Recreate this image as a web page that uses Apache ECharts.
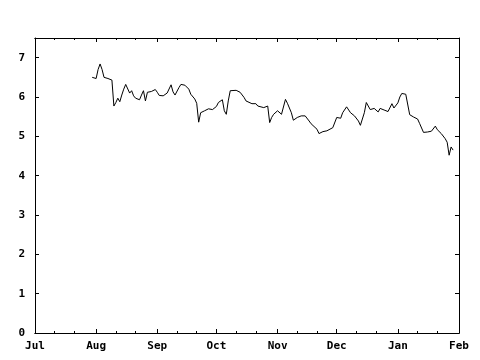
<!DOCTYPE html>
<html>
<head>
<meta charset="utf-8">
<script src="https://cdn.jsdelivr.net/npm/echarts@6/dist/echarts.min.js"></script>
<style>html,body{margin:0;padding:0;background:#fff}#c{width:480px;height:360px}</style>
</head>
<body>
<div id="c"></div>
<script>
var dates = [
 '2006-07-30','2006-07-31','2006-08-01','2006-08-02','2006-08-03','2006-08-04','2006-08-05','2006-08-07','2006-08-08','2006-08-09',
 '2006-08-10','2006-08-11','2006-08-12','2006-08-13','2006-08-14','2006-08-15','2006-08-16','2006-08-18','2006-08-19','2006-08-20',
 '2006-08-21','2006-08-23','2006-08-24','2006-08-25','2006-08-26','2006-08-27','2006-08-28','2006-08-29','2006-08-31','2006-09-01',
 '2006-09-02','2006-09-04','2006-09-06','2006-09-08','2006-09-09','2006-09-10','2006-09-12','2006-09-13','2006-09-15','2006-09-17',
 '2006-09-18','2006-09-20','2006-09-21','2006-09-22','2006-09-23','2006-09-25','2006-09-27','2006-09-29','2006-10-01','2006-10-02',
 '2006-10-04','2006-10-05','2006-10-06','2006-10-07','2006-10-08','2006-10-09','2006-10-11','2006-10-12','2006-10-13','2006-10-15',
 '2006-10-16','2006-10-19','2006-10-21','2006-10-22','2006-10-25','2006-10-26','2006-10-27','2006-10-28','2006-10-29','2006-10-30',
 '2006-11-01','2006-11-02','2006-11-03','2006-11-05','2006-11-06','2006-11-08','2006-11-09','2006-11-11','2006-11-13','2006-11-15',
 '2006-11-17','2006-11-18','2006-11-19','2006-11-21','2006-11-22','2006-11-24','2006-11-26','2006-11-29','2006-11-30','2006-12-01',
 '2006-12-02','2006-12-03','2006-12-04','2006-12-06','2006-12-08','2006-12-09','2006-12-10','2006-12-12','2006-12-13','2006-12-15',
 '2006-12-16','2006-12-18','2006-12-20','2006-12-21','2006-12-22','2006-12-23','2006-12-25','2006-12-27','2006-12-29','2006-12-30',
 '2007-01-01','2007-01-02','2007-01-03','2007-01-05','2007-01-06','2007-01-07','2007-01-09','2007-01-11','2007-01-12','2007-01-13',
 '2007-01-14','2007-01-16','2007-01-18','2007-01-19','2007-01-20','2007-01-21','2007-01-23','2007-01-25','2007-01-26','2007-01-27',
 '2007-01-28','2007-01-29'
];
var values = [
 6.50,6.48,6.47,6.70,6.84,6.70,6.50,6.47,6.45,6.43,
 5.77,5.86,5.97,5.88,6.05,6.20,6.32,6.10,6.16,6.03,
 5.97,5.93,6.05,6.16,5.90,6.12,6.16,6.14,6.19,6.12,
 6.04,6.03,6.10,6.31,6.13,6.05,6.24,6.32,6.30,6.20,
 6.07,5.95,5.84,5.36,5.60,5.65,5.70,5.68,5.76,5.86,
 5.93,5.65,5.56,5.90,6.16,6.17,6.17,6.16,6.12,5.99,
 5.90,5.83,5.83,5.77,5.73,5.69,5.77,5.35,5.48,5.56,
 5.65,5.62,5.56,5.94,5.84,5.60,5.41,5.48,5.52,5.52,
 5.39,5.32,5.31,5.18,5.07,5.12,5.14,5.22,5.26,5.48,
 5.53,5.46,5.60,5.75,5.60,5.63,5.52,5.39,5.28,5.60,
 5.86,5.68,5.71,5.67,5.62,5.71,5.67,5.63,5.83,5.72,
 5.85,6.00,6.09,6.07,6.04,5.55,5.49,5.44,5.33,5.35,
 5.10,5.11,5.13,5.17,5.26,5.17,5.07,4.94,4.85,4.52,
 4.73,4.65
];
var monthNames = ['Jan','Feb','Mar','Apr','May','Jun','Jul','Aug','Sep','Oct','Nov','Dec'];
var majorTicks = ['2006-07-01','2006-08-01','2006-09-01','2006-10-01','2006-11-01','2006-12-01','2007-01-01','2007-02-01'];
var minorTicks = ['2006-07-11','2006-07-21','2006-08-11','2006-08-21','2006-09-11','2006-09-21','2006-10-11','2006-10-21',
                  '2006-11-11','2006-11-21','2006-12-11','2006-12-21','2007-01-11','2007-01-21'];
var yTicks = [0,1,2,3,4,5,6,7];

function ts(s){ var p = s.split('-'); return new Date(+p[0], +p[1]-1, +p[2]).getTime(); }
var xMin = ts(majorTicks[0]), xMax = ts(majorTicks[majorTicks.length-1]);
var font = {fontFamily:'DejaVu Sans Mono', fontWeight:'bold', fontSize:11, color:'#000'};
var lineStyle = {color:'#000', width:1};

function xAx(pos, ticks, len, labels){
  return {
    type:'value', min:xMin, max:xMax, position:pos, gridIndex:0, scale:true,
    axisLine:{show:true, onZero:false, lineStyle:lineStyle},
    axisTick:{show:true, inside:true, length:len, lineStyle:lineStyle, customValues:ticks.map(ts)},
    axisLabel:labels ? Object.assign({show:true, margin:8, customValues:majorTicks.map(ts),
      formatter:function(v){ return monthNames[new Date(v).getMonth()]; }}, font) : {show:false},
    splitLine:{show:false}, minorTick:{show:false}
  };
}
function yAx(pos, labels){
  return {
    type:'value', min:0, max:7.5, position:pos,
    axisLine:{show:true, onZero:false, lineStyle:lineStyle},
    axisTick:{show:true, inside:true, length:4, lineStyle:lineStyle, customValues:yTicks},
    axisLabel:labels ? Object.assign({show:true, margin:10, customValues:yTicks}, font) : {show:false},
    splitLine:{show:false}
  };
}

var chart = echarts.init(document.getElementById('c'), null, {renderer:'canvas'});
chart.setOption({
  backgroundColor:'#fff',
  animation:false,
  grid:{left:35, right:21, top:38, bottom:27, containLabel:false},
  xAxis:[xAx('bottom', majorTicks, 4, true), xAx('bottom', minorTicks, 2, false),
         xAx('top', majorTicks, 4, false), xAx('top', minorTicks, 2, false)],
  yAxis:[yAx('left', true), yAx('right', false)],
  series:[{
    type:'line', xAxisIndex:0, yAxisIndex:0,
    data:dates.map(function(d,i){ return [ts(d), values[i]]; }),
    showSymbol:false, symbol:'none', smooth:false,
    lineStyle:{color:'#000', width:1}
  }]
});
</script>
</body>
</html>
